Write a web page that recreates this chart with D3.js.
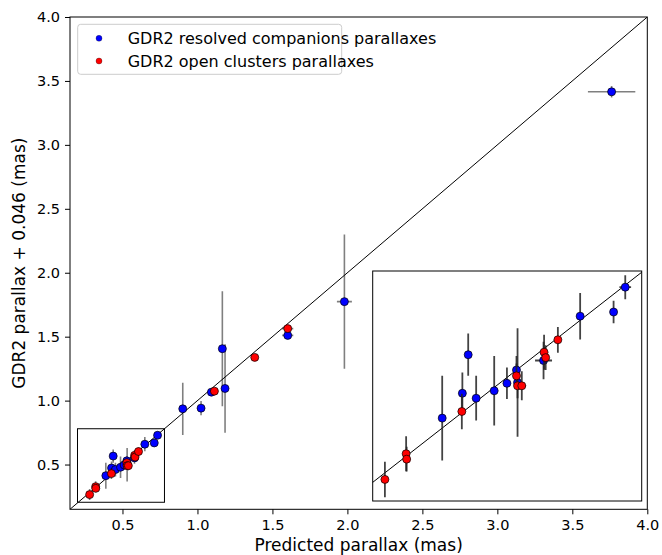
<!DOCTYPE html>
<html>
<head>
<meta charset="utf-8">
<script src="https://cdn.jsdelivr.net/npm/d3@7"></script>
<style>
  body { margin: 0; background: #fff; }
  text { font-family: "DejaVu Sans", sans-serif; fill: #000; }
</style>
</head>
<body>
<div id="chart"></div>
<script>
// data (mas)
const compX  = [0.389, 0.427, 0.438, 0.453, 0.487, 0.511, 0.529, 0.531, 0.580, 0.649, 0.712, 0.734, 0.902, 1.024, 1.093, 1.166, 1.184, 1.602, 1.980, 3.762];
const compY  = [0.413, 0.473, 0.566, 0.461, 0.479, 0.497, 0.529, 0.499, 0.552, 0.659, 0.669, 0.729, 0.936, 0.941, 1.066, 1.406, 1.095, 1.510, 1.774, 3.415];
const compEx = [0.004, 0.004, 0.004, 0.004, 0.004, 0.004, 0.004, 0.004, 0.016, 0.004, 0.006, 0.011, 0.008, 0.008, 0.020, 0.008, 0.008, 0.037, 0.050, 0.158];
const compEy = [0.102, 0.050, 0.051, 0.054, 0.084, 0.038, 0.034, 0.131, 0.045, 0.056, 0.027, 0.029, 0.204, 0.055, 0.020, 0.450, 0.346, 0.020, 0.525, 0.045];

const clusX  = [0.281, 0.321, 0.322, 0.426, 0.529, 0.531, 0.539, 0.581, 0.584, 0.607, 1.113, 1.382, 1.602];
const clusY  = [0.265, 0.327, 0.314, 0.429, 0.515, 0.491, 0.491, 0.572, 0.559, 0.602, 1.074, 1.338, 1.563];
const clusEx = [0.004, 0.004, 0.004, 0.004, 0.004, 0.004, 0.008, 0.006, 0.006, 0.004, 0.008, 0.008, 0.037];
const clusEy = [0.043, 0.042, 0.030, 0.043, 0.030, 0.030, 0.035, 0.042, 0.030, 0.031, 0.010, 0.010, 0.020];

const ticks = [0.5, 1.0, 1.5, 2.0, 2.5, 3.0, 3.5, 4.0];
const legendLabels = ["GDR2 resolved companions parallaxes", "GDR2 open clusters parallaxes"];
const colors = ["#0000ff", "#ff0000"];

// inset limits and the box drawn on the main plot
const insetXLim = [0.258, 0.765], insetYLim = [0.213, 0.768];
const zoomBox = {x0: 0.2, x1: 0.78, y0: 0.205, y1: 0.78};

const width = 662, height = 555;
const margin = {left: 70, right: 662 - 647.3, top: 17, bottom: 555 - 509.3};
const pw = width - margin.left - margin.right, ph = height - margin.top - margin.bottom;

const series = [
  d3.range(compX.length).map(i => ({x: compX[i], y: compY[i], ex: compEx[i], ey: compEy[i]})),
  d3.range(clusX.length).map(i => ({x: clusX[i], y: clusY[i], ex: clusEx[i], ey: clusEy[i]}))
];

const svg = d3.select("#chart").append("svg")
  .attr("width", width).attr("height", height);

const x = d3.scaleLinear().domain([0.15, 4.0]).range([0, pw]);
const y = d3.scaleLinear().domain([0.15, 4.0]).range([ph, 0]);

const defs = svg.append("defs");
defs.append("clipPath").attr("id", "clipMain")
  .append("rect").attr("width", pw).attr("height", ph);

const g = svg.append("g").attr("transform", `translate(${margin.left},${margin.top})`);
const plot = g.append("g").attr("clip-path", "url(#clipMain)");

function drawPoints(layer, xs, ys, barColor, barOpacity, barWidth, r) {
  // one-to-one line
  layer.append("line")
    .attr("x1", xs(0)).attr("y1", ys(0)).attr("x2", xs(5)).attr("y2", ys(5))
    .attr("stroke", "#000").attr("stroke-width", 1);
  series.forEach((pts, k) => {
    const s = layer.append("g");
    s.selectAll(".ey").data(pts).enter().append("line")
      .attr("x1", d => xs(d.x)).attr("x2", d => xs(d.x))
      .attr("y1", d => ys(d.y - d.ey)).attr("y2", d => ys(d.y + d.ey))
      .attr("stroke", barColor).attr("stroke-opacity", barOpacity).attr("stroke-width", barWidth);
    s.selectAll(".ex").data(pts).enter().append("line")
      .attr("y1", d => ys(d.y)).attr("y2", d => ys(d.y))
      .attr("x1", d => xs(d.x - d.ex)).attr("x2", d => xs(d.x + d.ex))
      .attr("stroke", barColor).attr("stroke-opacity", barOpacity).attr("stroke-width", barWidth);
    s.selectAll("circle").data(pts).enter().append("circle")
      .attr("cx", d => xs(d.x)).attr("cy", d => ys(d.y)).attr("r", r)
      .attr("fill", colors[k]).attr("stroke", "#000").attr("stroke-width", 0.7);
  });
}

drawPoints(plot, x, y, "#000", 0.5, 1.6, 4);

// box marking the zoomed region
g.append("rect")
  .attr("x", x(zoomBox.x0)).attr("y", y(zoomBox.y1))
  .attr("width", x(zoomBox.x1) - x(zoomBox.x0)).attr("height", y(zoomBox.y0) - y(zoomBox.y1))
  .attr("fill", "none").attr("stroke", "#000").attr("stroke-width", 1);

// axes
const xAxis = g.append("g").attr("transform", `translate(0,${ph})`)
  .call(d3.axisBottom(x).tickValues(ticks).tickFormat(d3.format(".1f")).tickSize(5).tickSizeOuter(0).tickPadding(5));
const yAxis = g.append("g")
  .call(d3.axisLeft(y).tickValues(ticks).tickFormat(d3.format(".1f")).tickSize(5).tickSizeOuter(0).tickPadding(5));
[xAxis, yAxis].forEach(a => {
  a.selectAll("text").attr("font-size", 14.5).attr("font-family", "DejaVu Sans");
  a.select(".domain").remove();
});
g.append("rect").attr("width", pw).attr("height", ph)
  .attr("fill", "none").attr("stroke", "#000").attr("stroke-width", 1);

// inset
const ix0 = 372.7 - margin.left, iy0 = 271 - margin.top, iw = 641.7 - 372.7, ih = 501 - 271;
const xi = d3.scaleLinear().domain(insetXLim).range([0, iw]);
const yi = d3.scaleLinear().domain(insetYLim).range([ih, 0]);
defs.append("clipPath").attr("id", "clipInset")
  .append("rect").attr("width", iw).attr("height", ih);
const inset = g.append("g").attr("transform", `translate(${ix0},${iy0})`);
inset.append("rect").attr("width", iw).attr("height", ih).attr("fill", "#fff");
drawPoints(inset.append("g").attr("clip-path", "url(#clipInset)"), xi, yi, "#222", 0.85, 1.8, 4);
inset.append("rect").attr("width", iw).attr("height", ih)
  .attr("fill", "none").attr("stroke", "#000").attr("stroke-width", 1);

// legend
const leg = svg.append("g").attr("transform", "translate(77.7,24.3)");
leg.append("rect").attr("width", 264).attr("height", 50).attr("rx", 3)
  .attr("fill", "#fff").attr("fill-opacity", 0.8).attr("stroke", "#ccc").attr("stroke-width", 1);
legendLabels.forEach((t, i) => {
  const row = leg.append("g").attr("transform", `translate(0,${14 + i * 22.7})`);
  row.append("circle").attr("cx", 21.3).attr("cy", 0).attr("r", 3)
    .attr("fill", colors[i]).attr("stroke", "#000").attr("stroke-width", 0.3);
  row.append("text").attr("x", 50).attr("y", 5.8).attr("font-size", 16).text(t);
});

// axis labels
svg.append("text").attr("x", margin.left + pw / 2).attr("y", 550.5)
  .attr("text-anchor", "middle").attr("font-size", 17).text("Predicted parallax (mas)");
svg.append("text").attr("transform", `translate(25,${margin.top + ph / 2}) rotate(-90)`)
  .attr("text-anchor", "middle").attr("font-size", 17).text("GDR2 parallax + 0.046 (mas)");
</script>
</body>
</html>
